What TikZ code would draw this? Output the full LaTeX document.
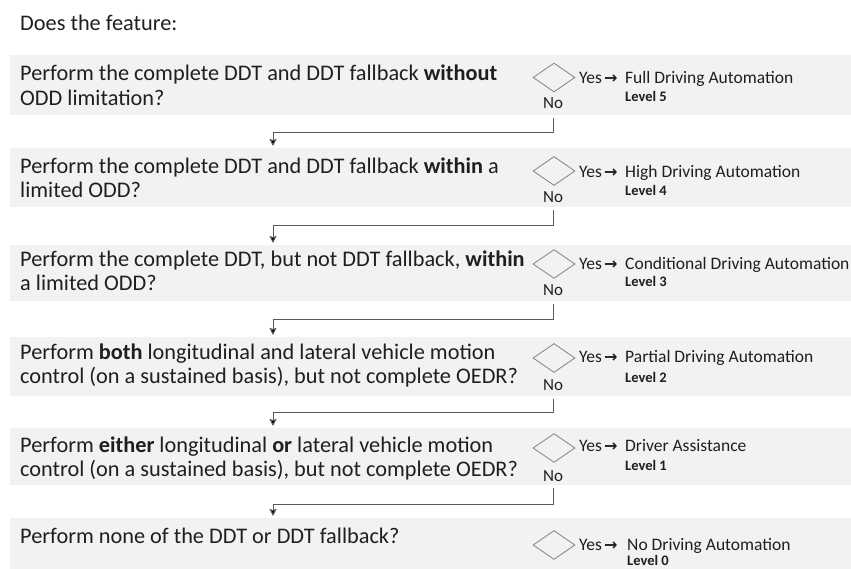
\documentclass[tikz,border=0pt]{standalone}
\usepackage{fontspec}
\setmainfont{Carlito}
\newfontfamily\symfont{DejaVu Sans}
\usetikzlibrary{shapes.geometric,arrows.meta}
\definecolor{bandgray}{HTML}{F2F2F2}
\definecolor{txt}{HTML}{1F1F1F}
\definecolor{linegray}{HTML}{595959}
\definecolor{diagray}{HTML}{8C8C8C}
\tikzset{
  band/.style={fill=bandgray, draw=none, anchor=north west, minimum width=841pt, inner sep=0pt},
  qtext/.style={anchor=base west, inner sep=0pt, text=txt, font=\fontsize{22.3}{26}\selectfont},
  dia/.style={diamond, draw=diagray, line width=0.9pt, minimum width=42pt, minimum height=29pt, inner sep=0pt, aspect=1.45},
  yestext/.style={anchor=base west, inner sep=0pt, text=txt, font=\fontsize{17.5}{20}\selectfont},
  lvl/.style={anchor=base west, inner sep=0pt, text=txt, font=\fontsize{14.5}{16}\selectfont\bfseries},
  notext/.style={anchor=base, inner sep=0pt, text=txt, font=\fontsize{17}{20}\selectfont},
  conn/.style={draw=linegray, line width=1pt, -{Stealth[length=7pt,width=7pt,inset=1pt,fill=black]}},
}
\newcommand{\yesarrow}{Yes\hspace{2pt}{\symfont\bfseries\fontsize{16}{18}\selectfont →}}
\begin{document}
\begin{tikzpicture}[x=1pt,y=-1pt]
\useasboundingbox (0,0) rectangle (851,569);
\node[anchor=base west, inner sep=0pt, text=txt, font=\fontsize{22.3}{26}\selectfont] (title) at (20,31) {Does the feature:};

% bands
\node[band, minimum height=60pt] (band1) at (10,55) {};
\node[band, minimum height=59pt] (band2) at (10,148) {};
\node[band, minimum height=56pt] (band3) at (10,245) {};
\node[band, minimum height=59pt] (band4) at (10,337) {};
\node[band, minimum height=57pt] (band5) at (10,428) {};
\node[band, minimum height=51pt] (band6) at (10,518) {};

% questions
\node[qtext] (q1a) at (20,80.5) {Perform the complete DDT and DDT fallback \textbf{without}};
\node[qtext] (q1b) at (20,105.5) {ODD limitation?};
\node[qtext] (q2a) at (20,173.5) {Perform the complete DDT and DDT fallback \textbf{within} a};
\node[qtext] (q2b) at (20,197.5) {limited ODD?};
\node[qtext] (q3a) at (20,266.5) {Perform the complete DDT, but not DDT fallback, \textbf{within}};
\node[qtext] (q3b) at (20,290.5) {a limited ODD?};
\node[qtext] (q4a) at (20,359.5) {Perform \textbf{both} longitudinal and lateral vehicle motion};
\node[qtext] (q4b) at (20,383.5) {control (on a sustained basis), but not complete OEDR?};
\node[qtext] (q5a) at (20,452.5) {Perform \textbf{either} longitudinal \textbf{or} lateral vehicle motion};
\node[qtext] (q5b) at (20,476.5) {control (on a sustained basis), but not complete OEDR?};
\node[qtext] (q6a) at (20,543.5) {Perform none of the DDT or DDT fallback?};

% diamonds
\node[dia] (d1) at (554,77.5) {};
\node[dia] (d2) at (554,171) {};
\node[dia] (d3) at (554,264) {};
\node[dia] (d4) at (554,358) {};
\node[dia] (d5) at (554,448) {};
\node[dia] (d6) at (554,545) {};

% yes labels
\node[yestext] (y1) at (579,83.5) {\yesarrow};
\node[yestext] (y2) at (579,177.5) {\yesarrow};
\node[yestext] (y3) at (579,269.5) {\yesarrow};
\node[yestext] (y4) at (579,362.5) {\yesarrow};
\node[yestext] (y5) at (579,451.5) {\yesarrow};
\node[yestext] (y6) at (579,550.5) {\yesarrow};

\node[yestext] (n1) at (625,83.5) {Full Driving Automation};
\node[yestext] (n2) at (625,177.5) {High Driving Automation};
\node[yestext] (n3) at (625,269.5) {Conditional Driving Automation};
\node[yestext] (n4) at (625,362.5) {Partial Driving Automation};
\node[yestext] (n5) at (625,451.5) {Driver Assistance};
\node[yestext] (n6) at (627,550.5) {No Driving Automation};

\node[lvl] (l1) at (625,102) {Level 5};
\node[lvl] (l2) at (625,196) {Level 4};
\node[lvl] (l3) at (625,287) {Level 3};
\node[lvl] (l4) at (625,382.5) {Level 2};
\node[lvl] (l5) at (625,470.5) {Level 1};
\node[lvl] (l6) at (627,565.5) {Level 0};

% no labels
\node[notext] (no1) at (553,108.5) {No};
\node[notext] (no2) at (553,202.5) {No};
\node[notext] (no3) at (553,295.5) {No};
\node[notext] (no4) at (553,390.5) {No};
\node[notext] (no5) at (553,481.5) {No};

% connectors
\coordinate (t1) at (273,133);
\coordinate (t2) at (273,226);
\coordinate (t3) at (273,319);
\coordinate (t4) at (273,412);
\coordinate (t5) at (273,504);
\draw[conn] ([yshift=-3pt]band1.south -| no1.south) |- (t1) -- ([yshift=2pt]t1 |- band2.north);
\draw[conn] ([yshift=-3pt]band2.south -| no2.south) |- (t2) -- ([yshift=2pt]t2 |- band3.north);
\draw[conn] ([yshift=-3pt]band3.south -| no3.south) |- (t3) -- ([yshift=2pt]t3 |- band4.north);
\draw[conn] ([yshift=-3pt]band4.south -| no4.south) |- (t4) -- ([yshift=2pt]t4 |- band5.north);
\draw[conn] ([yshift=-3pt]band5.south -| no5.south) |- (t5) -- ([yshift=2pt]t5 |- band6.north);
\end{tikzpicture}
\end{document}
